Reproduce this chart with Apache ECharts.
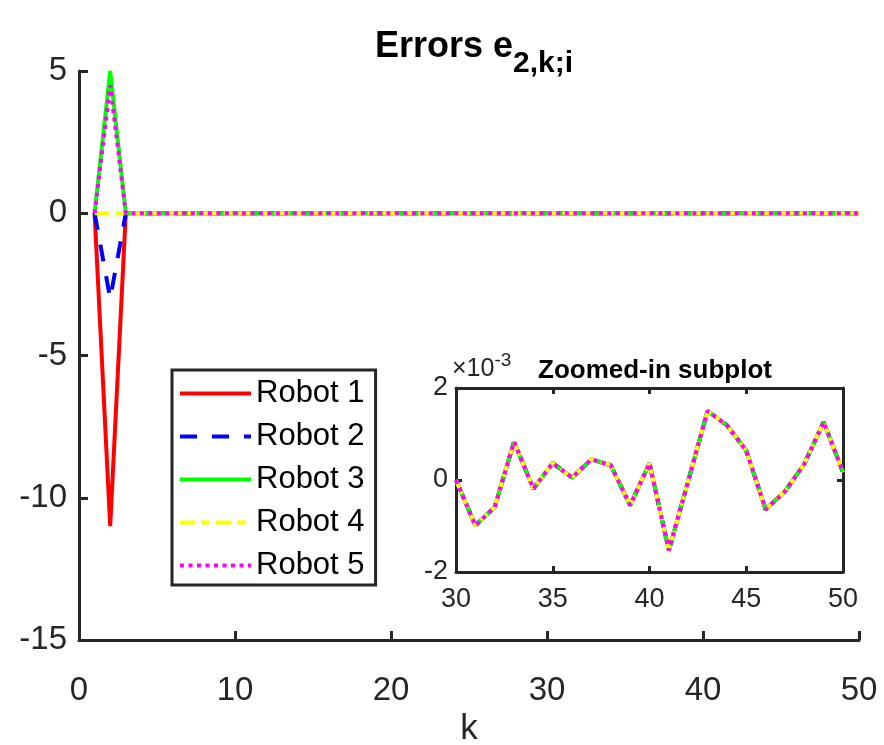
<!DOCTYPE html>
<html>
<head>
<meta charset="utf-8">
<script src="https://cdn.jsdelivr.net/npm/echarts@6/dist/echarts.min.js"></script>
<style>
  html, body { margin: 0; padding: 0; background: #fff; }
  #chart { width: 884px; height: 745px; }
</style>
</head>
<body>
<div id="chart"></div>
<script>
// Time steps k
const steps = [1, 2, 3, 4, 5, 6, 7, 8, 9, 10, 11, 12, 13, 14, 15, 16, 17, 18, 19, 20,
  21, 22, 23, 24, 25, 26, 27, 28, 29, 30, 31, 32, 33, 34, 35, 36, 37, 38, 39, 40,
  41, 42, 43, 44, 45, 46, 47, 48, 49, 50];

// Errors at k = 1, 2 for each robot
const robot1Start = [0, -11];
const robot2Start = [0, -3];
const robot3Start = [0, 5];
const robot4Start = [0, 0];
const robot5Start = [0, 4.5];

// Residual error (in units of 1e-3) shared by all robots for k = 3 .. 50
const residualMilli = [
  0.02, -0.35, 0.61, -0.48, 0.27, 0.93, -0.72, 0.15, -0.41, 0.58,
  1.12, -0.26, -0.87, 0.34, 0.71, -0.19, 0.46, -1.05, 0.22, 0.88,
  -0.53, 0.09, 1.21, -0.38, -0.66, 0.51, 0.30,
  0.00, -0.99, -0.59, 0.83, -0.19, 0.37, 0.05, 0.45, 0.32, -0.55,
  0.36, -1.53, -0.02, 1.50, 1.19, 0.64, -0.64, -0.25, 0.35, 1.26, 0.17
];

const robotNames = ['Robot 1', 'Robot 2', 'Robot 3', 'Robot 4', 'Robot 5'];
const robotColors = ['#ff0000', '#0000ff', '#00ff00', '#ffff00', '#ff00ff'];
const robotDash = ['solid', [17, 15], 'solid', [15, 6, 9, 6], [4, 4.5]];

const mainYTicks = { min: -15, max: 5, interval: 5 };
const zoomRange = { kMin: 30, kMax: 50 };

const axisColor = '#262626';
const fontFam = '"Liberation Sans", Arial, Helvetica, sans-serif';
const lineW = 4;

function buildSeries(start) {
  const vals = start.concat(residualMilli.map(v => v * 1e-3));
  return steps.map((k, i) => [k, vals[i]]);
}
const starts = [robot1Start, robot2Start, robot3Start, robot4Start, robot5Start];
const fullData = starts.map(buildSeries);

const series = [];
fullData.forEach((d, i) => {
  series.push({
    name: robotNames[i], type: 'line', xAxisIndex: 0, yAxisIndex: 0,
    data: d, symbol: 'none', silent: true, animation: false,
    lineStyle: { color: robotColors[i], width: lineW, type: robotDash[i] },
    itemStyle: { color: robotColors[i] }
  });
});
fullData.forEach((d, i) => {
  series.push({
    name: robotNames[i], type: 'line', xAxisIndex: 1, yAxisIndex: 1,
    data: d.filter(p => p[0] >= zoomRange.kMin && p[0] <= zoomRange.kMax)
           .map(p => [p[0], p[1] * 1000]),
    symbol: 'none', silent: true, animation: false,
    lineStyle: { color: robotColors[i], width: lineW, type: robotDash[i] },
    itemStyle: { color: robotColors[i] }
  });
});

const tickStyle = { lineStyle: { color: axisColor, width: 3 } };

const option = {
  backgroundColor: '#ffffff',
  animation: false,
  textStyle: { fontFamily: fontFam },
  title: [
    {
      text: '{m|Errors e}{s|2,k;i}',
      left: 469, top: 10, textAlign: 'center',
      textStyle: {
        rich: {
          m: { fontSize: 36, fontWeight: 'bold', color: '#000', fontFamily: fontFam, padding: [0, 0, 0, 0] },
          s: { fontSize: 30, fontWeight: 'bold', color: '#000', fontFamily: fontFam, padding: [34, 0, 0, 0] }
        }
      }
    },
    {
      text: 'Zoomed-in subplot',
      left: 650, top: 353, textAlign: 'center',
      textStyle: { fontSize: 26, fontWeight: 'bold', color: '#000', fontFamily: fontFam }
    }
  ],
  legend: {
    data: robotNames,
    orient: 'vertical',
    left: 172, top: 370,
    itemWidth: 71, itemHeight: 14, itemGap: 12,
    padding: [8, 11, 4, 6],
    backgroundColor: '#ffffff',
    borderColor: axisColor, borderWidth: 3,
    itemStyle: { opacity: 0 },
    lineStyle: { width: 4 },
    textStyle: { fontSize: 31, color: '#000', fontFamily: fontFam },
    selectedMode: false
  },
  grid: [
    { left: 79, right: 25, top: 71, bottom: 105, containLabel: false, outerBoundsMode: 'none' },
    { left: 456, right: 41, top: 388, bottom: 173, containLabel: false, outerBoundsMode: 'none',
      show: true, backgroundColor: '#ffffff', borderWidth: 0 }
  ],
  xAxis: [
    {
      type: 'value', gridIndex: 0, min: 0, max: 50, interval: 10,
      name: 'k', nameLocation: 'middle', nameGap: 70,
      nameTextStyle: { fontSize: 35, color: '#262626', fontFamily: fontFam },
      axisLine: { show: true, onZero: false, lineStyle: { color: axisColor, width: 3 } },
      axisTick: Object.assign({ show: true, inside: true, length: 9 }, tickStyle),
      axisLabel: { fontSize: 33, color: '#262626', margin: 34, fontFamily: fontFam },
      splitLine: { show: false }
    },
    {
      type: 'value', gridIndex: 1, min: zoomRange.kMin, max: zoomRange.kMax, interval: 5,
      position: 'bottom',
      axisLine: { show: true, onZero: false, lineStyle: { color: axisColor, width: 3 } },
      axisTick: Object.assign({ show: true, inside: true, length: 6 }, tickStyle),
      axisLabel: { fontSize: 27, color: '#262626', margin: 14, fontFamily: fontFam },
      splitLine: { show: false }
    },
    {
      type: 'value', gridIndex: 1, min: zoomRange.kMin, max: zoomRange.kMax, interval: 5,
      position: 'top',
      axisLine: { show: true, onZero: false, lineStyle: { color: axisColor, width: 3 } },
      axisTick: Object.assign({ show: true, inside: true, length: 6 }, tickStyle),
      axisLabel: { show: false },
      splitLine: { show: false }
    }
  ],
  yAxis: [
    {
      type: 'value', gridIndex: 0,
      min: mainYTicks.min, max: mainYTicks.max, interval: mainYTicks.interval,
      axisLine: { show: true, onZero: false, lineStyle: { color: axisColor, width: 3 } },
      axisTick: Object.assign({ show: true, inside: true, length: 9 }, tickStyle),
      axisLabel: { fontSize: 33, color: '#262626', margin: 12, fontFamily: fontFam },
      splitLine: { show: false }
    },
    {
      type: 'value', gridIndex: 1, min: -2, max: 2, interval: 2,
      position: 'left',
      name: '{a|×10}{b|-3}', nameLocation: 'end', nameGap: 6,
      nameTextStyle: {
        align: 'left', padding: [0, 0, 0, -4],
        rich: {
          a: { fontSize: 25, color: '#262626', fontFamily: fontFam, padding: [8, 0, 0, 0] },
          b: { fontSize: 19, color: '#262626', fontFamily: fontFam, padding: [0, 0, 10, 0] }
        }
      },
      axisLine: { show: true, onZero: false, lineStyle: { color: axisColor, width: 3 } },
      axisTick: Object.assign({ show: true, inside: true, length: 6 }, tickStyle),
      axisLabel: { fontSize: 27, color: '#262626', margin: 8, fontFamily: fontFam },
      splitLine: { show: false }
    },
    {
      type: 'value', gridIndex: 1, min: -2, max: 2, interval: 2,
      position: 'right',
      axisLine: { show: true, onZero: false, lineStyle: { color: axisColor, width: 3 } },
      axisTick: Object.assign({ show: true, inside: true, length: 6 }, tickStyle),
      axisLabel: { show: false },
      splitLine: { show: false }
    }
  ],
  series: series
};

const chart = echarts.init(document.getElementById('chart'), null, { renderer: 'canvas' });
chart.setOption(option);
</script>
</body>
</html>
